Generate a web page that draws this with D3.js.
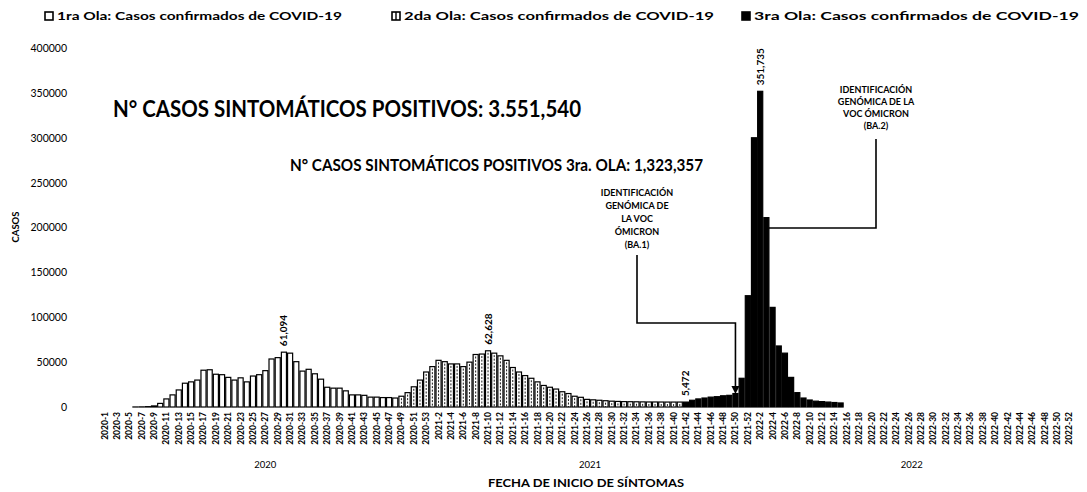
<!DOCTYPE html>
<html>
<head>
<meta charset="utf-8">
<script src="https://cdn.jsdelivr.net/npm/d3@7"></script>
<style>
body { margin: 0; background: #fff; }
svg { display: block; font-family: Lato, "DejaVu Sans", sans-serif; }
</style>
</head>
<body>
<svg id="chart" width="1087" height="492"></svg>
<script>
// semanas epidemiologicas por anio
var anios = [2020, 2021, 2022];
var semanasPorAnio = [53, 52, 52];

// casos por semana de inicio de sintomas, cada ola desde su primera semana
var ola1Inicio = "2020-6";
var ola1 = [50, 150, 400, 1200, 4000, 9000, 13500, 19000, 26500, 28000, 30000, 41000, 41500, 36500,
    36000, 33000, 30000, 32500, 28000, 34500, 36000, 40500, 53500, 55000, 61094, 60000, 50500, 40000,
    42000, 37000, 31000, 22000, 21000, 21000, 18000, 13500, 13500, 13000, 11000, 11000, 10500, 10500, 10000];

var ola2Inicio = "2020-49";
var ola2 = [12000, 16000, 22500, 30000, 39000, 45000, 52000, 50500, 48000, 48000, 45000, 50000, 58500,
    59000, 62628, 60000, 57000, 52000, 44000, 39000, 35000, 32000, 28000, 24000, 22000, 20000, 17000,
    15000, 12000, 10800, 8500, 8000, 7500, 7000, 6500, 6200, 6000, 5900, 5800, 5700, 5600, 5600, 5550,
    5500, 5500, 5500];

var ola3Inicio = "2021-42";
var ola3 = [5472, 7500, 9000, 10000, 11000, 11500, 12500, 13000, 15000, 32000, 124000, 300000, 351735,
    211000, 111000, 68000, 60000, 33000, 16000, 10000, 7800, 6500, 6000, 5500, 5000, 4500];

var yTicks = [0, 50000, 100000, 150000, 200000, 250000, 300000, 350000, 400000];

// semanas con el valor escrito encima
var semanasMarcadas = ["2020-30", "2021-10", "2021-42", "2022-2"];

var leyenda = ["1ra Ola: Casos confirmados de COVID-19",
               "2da Ola: Casos confirmados de COVID-19",
               "3ra Ola: Casos confirmados de COVID-19"];

var categorias = [];
anios.forEach(function(a, k) {
    for (var s = 1; s <= semanasPorAnio[k]; s++) categorias.push(a + "-" + s);
});

function serie(inicio, valores) {
    var k = categorias.indexOf(inicio);
    return valores.map(function(v, j) { return {cat: categorias[k + j], v: v}; });
}
var d1 = serie(ola1Inicio, ola1);
var d2 = serie(ola2Inicio, ola2);
var d3s = serie(ola3Inicio, ola3);

var svg = d3.select("#chart");

var x = d3.scaleBand()
    .domain(categorias)
    .range([102, 1072])
    .paddingInner(0.18)
    .paddingOuter(0);

var y = d3.scaleLinear()
    .domain([0, 400000])
    .range([407, 48]);

var cx = function(d) { return x(d.cat) + x.bandwidth() / 2; };

// ola 1: barras blancas
svg.append("g").selectAll("rect")
    .data(d1)
    .join("rect")
    .attr("x", function(d) { return x(d.cat); })
    .attr("y", function(d) { return y(d.v); })
    .attr("width", x.bandwidth())
    .attr("height", function(d) { return y(0) - y(d.v); })
    .attr("fill", "#fff")
    .attr("stroke", "#000")
    .attr("stroke-width", 1.2);

// ola 2: barras blancas con trama
var g2 = svg.append("g");
g2.selectAll("rect")
    .data(d2)
    .join("rect")
    .attr("x", function(d) { return x(d.cat); })
    .attr("y", function(d) { return y(d.v); })
    .attr("width", x.bandwidth())
    .attr("height", function(d) { return y(0) - y(d.v); })
    .attr("fill", "#fff")
    .attr("stroke", "#000")
    .attr("stroke-width", 1.2);
g2.selectAll("line")
    .data(d2.filter(function(d) { return y(0) - y(d.v) > 4; }))
    .join("line")
    .attr("x1", cx).attr("x2", cx)
    .attr("y1", function(d) { return y(d.v) + 2; })
    .attr("y2", y(0))
    .attr("stroke", "#000")
    .attr("stroke-width", 0.9)
    .attr("stroke-dasharray", "2,1.5");

// ola 3: barras negras
svg.append("g").selectAll("rect")
    .data(d3s)
    .join("rect")
    .attr("x", function(d) { return x(d.cat); })
    .attr("y", function(d) { return y(d.v); })
    .attr("width", x.bandwidth())
    .attr("height", function(d) { return y(0) - y(d.v); })
    .attr("fill", "#000")
    .attr("stroke", "#000")
    .attr("stroke-width", 1.2);

// valores marcados
var todos = d1.concat(d2, d3s);
svg.append("g").selectAll("text")
    .data(todos.filter(function(d) { return semanasMarcadas.indexOf(d.cat) >= 0; }))
    .join("text")
    .attr("transform", function(d) { return "translate(" + cx(d) + "," + (y(d.v) - 6) + ") rotate(-90)"; })
    .attr("dy", "0.35em")
    .attr("font-size", "10px")
    .attr("font-weight", "bold")
    .text(function(d) { return d3.format(",")(d.v); });

// eje y
var gy = svg.append("g")
    .attr("transform", "translate(67,0)")
    .call(d3.axisLeft(y).tickValues(yTicks).tickSize(0).tickPadding(0).tickFormat(d3.format("d")));
gy.select(".domain").remove();
gy.selectAll("text").attr("font-size", "10.5px").attr("font-family", "Lato, sans-serif").attr("fill", "#000");

svg.append("text")
    .attr("transform", "translate(19,227) rotate(-90)")
    .attr("text-anchor", "middle")
    .attr("font-size", "9.5px")
    .attr("font-weight", "bold")
    .text("CASOS");

// eje x
var gx = svg.append("g")
    .attr("transform", "translate(0,410)")
    .call(d3.axisBottom(x).tickValues(categorias.filter(function(c, i) { return i % 2 === 0; })).tickSize(0));
gx.select(".domain").remove();
gx.selectAll("text")
    .attr("transform", "rotate(-90)")
    .attr("text-anchor", "end")
    .attr("x", -2)
    .attr("y", 0)
    .attr("dy", "0.35em")
    .attr("font-size", "8.5px")
    .attr("font-weight", "bold")
    .attr("font-family", "Lato, sans-serif")
    .attr("fill", "#000");

svg.append("g").selectAll("text")
    .data(anios)
    .join("text")
    .attr("x", function(a, k) {
        var c = categorias.filter(function(s) { return s.indexOf(a + "-") === 0; });
        return (x(c[0]) + x(c[c.length - 1]) + x.bandwidth()) / 2;
    })
    .attr("y", 468)
    .attr("text-anchor", "middle")
    .attr("font-size", "9.5px")
    .text(function(a) { return a; });

svg.append("text")
    .attr("x", 488)
    .attr("y", 487)
    .attr("textLength", 196)
    .attr("lengthAdjust", "spacingAndGlyphs")
    .attr("font-size", "10.5px")
    .attr("font-weight", "bold")
    .text("FECHA DE INICIO DE SÍNTOMAS");

// leyenda
var legX = [45, 392, 742];
var legLen = [285, 310, 325];
var lg = svg.append("g");
leyenda.forEach(function(t, k) {
    lg.append("rect")
        .attr("x", legX[k]).attr("y", 12).attr("width", 8).attr("height", 8)
        .attr("fill", k === 2 ? "#000" : "#fff")
        .attr("stroke", "#000").attr("stroke-width", 1.6);
    if (k === 1) {
        lg.append("line")
            .attr("x1", legX[k] + 4).attr("x2", legX[k] + 4)
            .attr("y1", 12).attr("y2", 20)
            .attr("stroke", "#000").attr("stroke-width", 1.4);
    }
    lg.append("text")
        .attr("x", legX[k] + 12)
        .attr("y", 20)
        .attr("textLength", legLen[k])
        .attr("lengthAdjust", "spacingAndGlyphs")
        .attr("font-size", "12px")
        .attr("font-weight", "bold")
        .text(t);
});

// titulos
svg.append("text")
    .attr("x", 113).attr("y", 117)
    .attr("textLength", 468)
    .attr("lengthAdjust", "spacingAndGlyphs")
    .attr("font-size", "23px")
    .attr("font-weight", "bold")
    .text("N° CASOS SINTOMÁTICOS POSITIVOS: 3.551,540");

svg.append("text")
    .attr("x", 290).attr("y", 171)
    .attr("textLength", 413)
    .attr("lengthAdjust", "spacingAndGlyphs")
    .attr("font-size", "17px")
    .attr("font-weight", "bold")
    .text("N° CASOS SINTOMÁTICOS POSITIVOS 3ra. OLA: 1,323,357");

// anotaciones omicron
svg.append("defs").append("marker")
    .attr("id", "flecha")
    .attr("viewBox", "0 0 10 10")
    .attr("refX", 5).attr("refY", 5)
    .attr("markerWidth", 5).attr("markerHeight", 5)
    .attr("orient", "auto")
    .append("path")
    .attr("d", "M0,0 L10,5 L0,10 z")
    .attr("fill", "#000");

var ba1 = ["IDENTIFICACIÓN", "GENÓMICA DE", "LA VOC", "ÓMICRON", "(BA.1)"];
var ba2 = ["IDENTIFICACIÓN", "GENÓMICA DE LA", "VOC ÓMICRON", "(BA.2)"];

svg.append("g").selectAll("text")
    .data(ba1)
    .join("text")
    .attr("x", 637)
    .attr("y", function(d, i) { return 196 + i * 13; })
    .attr("text-anchor", "middle")
    .attr("font-size", "9px")
    .attr("font-weight", "bold")
    .text(function(d) { return d; });

svg.append("g").selectAll("text")
    .data(ba2)
    .join("text")
    .attr("x", 876)
    .attr("y", function(d, i) { return 93 + i * 12; })
    .attr("text-anchor", "middle")
    .attr("font-size", "9px")
    .attr("font-weight", "bold")
    .text(function(d) { return d; });

svg.append("path")
    .attr("d", "M637,255 V323 H" + (x("2021-50") + x.bandwidth() / 2) + " V390")
    .attr("fill", "none")
    .attr("stroke", "#000")
    .attr("stroke-width", 1.6)
    .attr("marker-end", "url(#flecha)");

svg.append("path")
    .attr("d", "M876,139 V228 H" + (x("2022-3") + x.bandwidth()))
    .attr("fill", "none")
    .attr("stroke", "#000")
    .attr("stroke-width", 1.6);
</script>
</body>
</html>
